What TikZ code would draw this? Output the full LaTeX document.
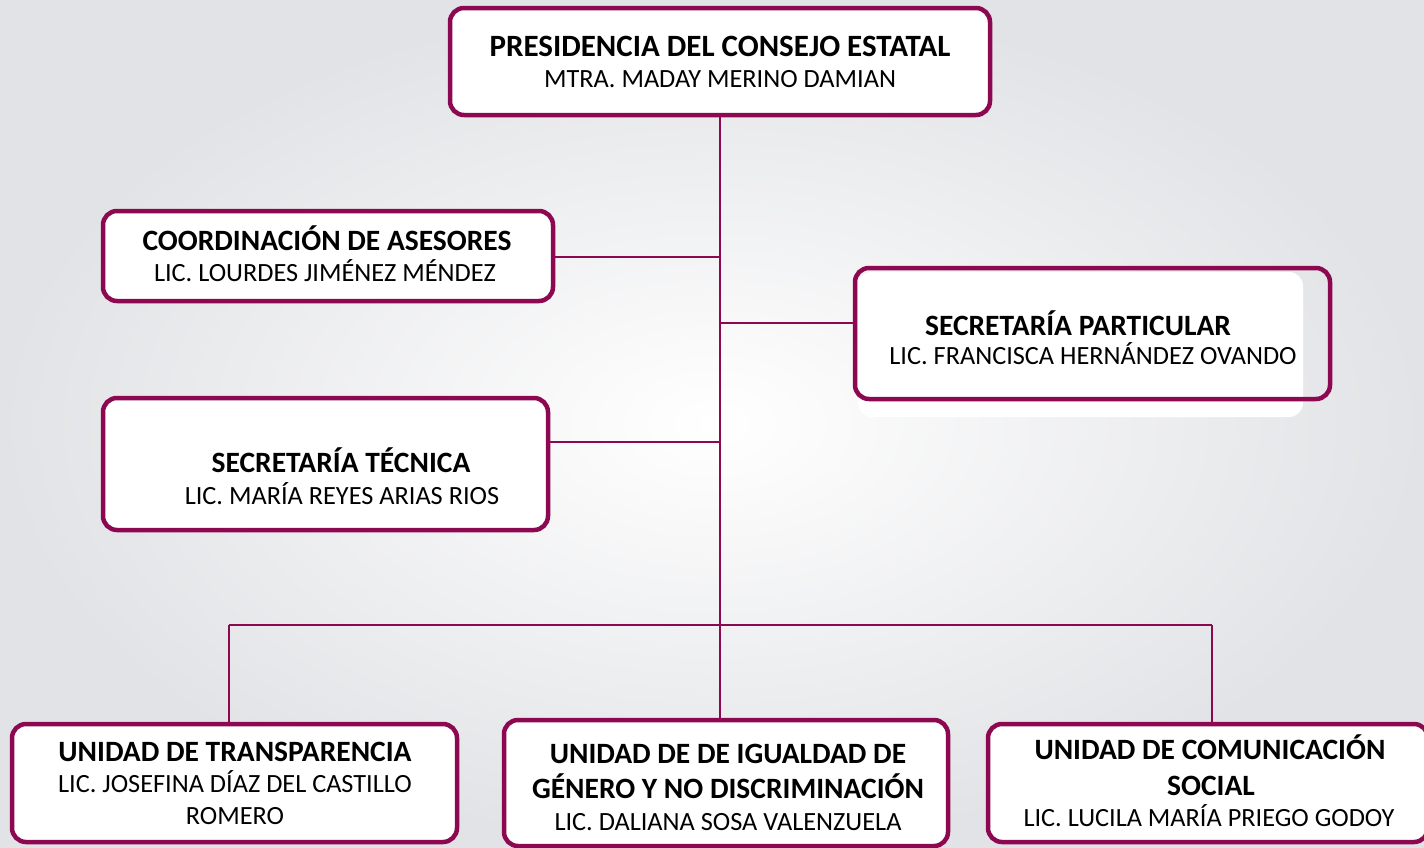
\documentclass[tikz,border=0pt]{standalone}
\usepackage{fontspec}
\setmainfont{Carlito}
\definecolor{mag}{RGB}{140,8,80}
\definecolor{bgout}{RGB}{226,227,230}
\begin{document}
\begin{tikzpicture}[x=1pt,y=-1pt,
  box/.style={draw=mag, line width=4.5pt, fill=white, rounded corners=14pt, rectangle, inner sep=0pt, outer sep=0pt},
  conn/.style={draw=mag, line width=2pt},
  ttl/.style={anchor=base, inner sep=0pt, font=\fontsize{29.5}{34}\selectfont\bfseries},
  nm/.style={anchor=base, inner sep=0pt, font=\fontsize{26.3}{30}\selectfont}]
\useasboundingbox (0,0) rectangle (1424,847);
\shade[inner color=white, outer color=bgout] (0,0) rectangle (1424,847);
% white shadow behind secretaria particular
\fill[white, rounded corners=14pt] (858,272) rectangle (1303,417);
% connectors
\coordinate (bus) at (720,625);
\coordinate (bl) at (229,625);
\coordinate (br) at (1212,625);
\coordinate (jc) at (720,257);
\coordinate (jp) at (720,323);
\coordinate (jt) at (720,442);
% boxes
\node[box, minimum width=540, minimum height=107] (pres) at (720,61.5) {};
\node[box, minimum width=450, minimum height=90] (coord) at (328,256) {};
\node[box, fill=none, minimum width=475, minimum height=131] (spart) at (1092.5,333.5) {};
\node[box, minimum width=445, minimum height=132] (stec) at (325.5,464) {};
\node[box, minimum width=445, minimum height=118] (transp) at (234.5,783) {};
\node[box, minimum width=444, minimum height=126] (igual) at (726,783) {};
\node[box, minimum width=440, minimum height=118] (comun) at (1208,783) {};
\draw[conn] (pres.south) -- (bus);
\draw[conn] (jc) -- (jc -| coord.east);
\draw[conn] (jp) -- (jp -| spart.west);
\draw[conn] (jt) -- (jt -| stec.east);
\draw[conn] (bl) -- (br);
\draw[conn] (bl) -- (bl |- transp.north);
\draw[conn] (bus) -- (bus |- igual.north);
\draw[conn] (br) -- (br |- comun.north);
% texts
\node[ttl, font=\fontsize{31}{34}\selectfont\bfseries] (t1) at (720,56) {PRESIDENCIA DEL CONSEJO ESTATAL};
\node[nm] (n1) at (720,87) {MTRA. MADAY MERINO DAMIAN};
\node[ttl] (t2) at (327,250) {COORDINACIÓN DE ASESORES};
\node[nm] (n2) at (325,281) {LIC. LOURDES JIMÉNEZ MÉNDEZ};
\node[ttl] (t3) at (1078,335) {SECRETARÍA PARTICULAR};
\node[nm] (n3) at (1093,364) {LIC. FRANCISCA HERNÁNDEZ OVANDO};
\node[ttl] (t4) at (341,472) {SECRETARÍA TÉCNICA};
\node[nm] (n4) at (342,504) {LIC. MARÍA REYES ARIAS RIOS};
\node[ttl] (t5) at (235,761) {UNIDAD DE TRANSPARENCIA};
\node[nm] (n5a) at (235,792) {LIC. JOSEFINA DÍAZ DEL CASTILLO};
\node[nm] (n5b) at (235,824) {ROMERO};
\node[ttl] (t6a) at (728,763) {UNIDAD DE DE IGUALDAD DE};
\node[ttl] (t6b) at (728,798) {GÉNERO Y NO DISCRIMINACIÓN};
\node[nm] (n6) at (728,830) {LIC. DALIANA SOSA VALENZUELA};
\node[ttl] (t7a) at (1210,759) {UNIDAD DE COMUNICACIÓN};
\node[ttl] (t7b) at (1211,795) {SOCIAL};
\node[nm] (n7) at (1209,826) {LIC. LUCILA MARÍA PRIEGO GODOY};
\end{tikzpicture}
\end{document}
